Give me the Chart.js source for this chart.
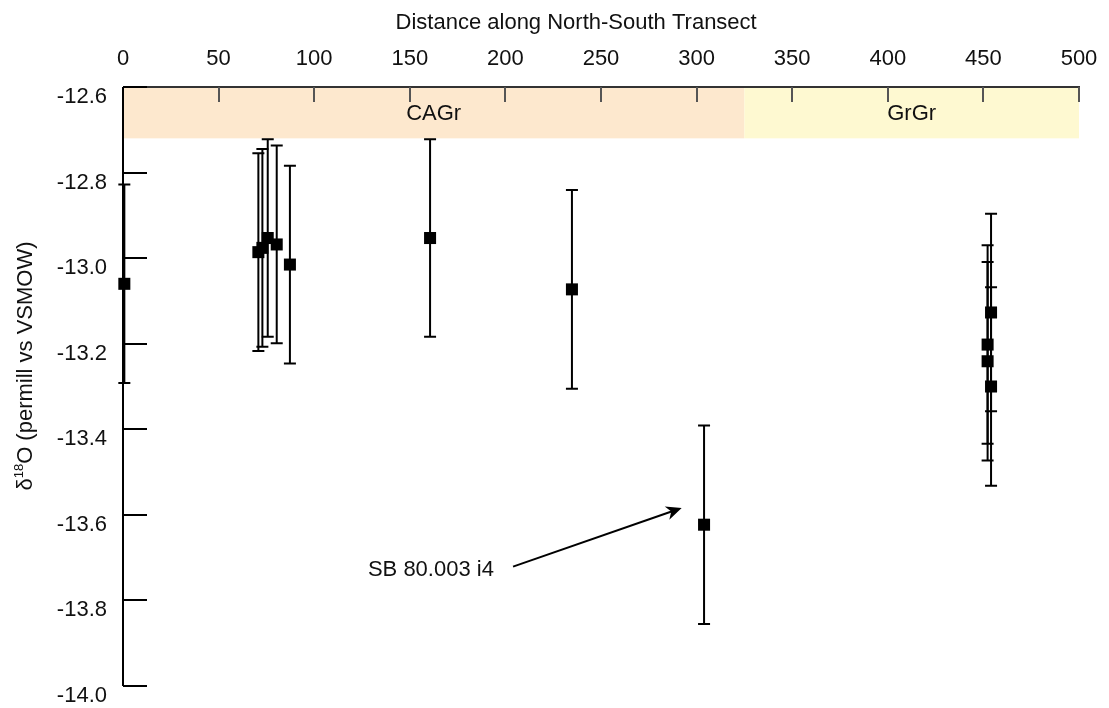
<!DOCTYPE html>
<html>
<head>
<meta charset="utf-8">
<script src="https://cdn.jsdelivr.net/npm/chart.js@4.4.0/dist/chart.umd.min.js"></script>
<style>
  html, body { margin: 0; padding: 0; background: #fff; }
  #wrap { width: 1109px; height: 708px; position: relative; }
</style>
</head>
<body>
<div id="wrap"><canvas id="isoChart"></canvas></div>
<script>
// =============================================
// DATOS
// =============================================
const distancias = [0.7, 70.8, 72.9, 75.7, 80.4, 87.3, 160.6, 234.8, 303.9, 452.2, 452.2, 454.0, 454.0];
const d18O = [-13.060, -12.986, -12.976, -12.953, -12.968, -13.015, -12.953, -13.073, -13.623, -13.202, -13.241, -13.127, -13.300];
const errores = [0.232, 0.231, 0.231, 0.231, 0.231, 0.231, 0.231, 0.232, 0.232, 0.232, 0.232, 0.231, 0.232];

const xTicks = [0, 50, 100, 150, 200, 250, 300, 350, 400, 450, 500];
const yTicks = [-14.0, -13.8, -13.6, -13.4, -13.2, -13.0, -12.8, -12.6];

// zonas sombreadas arriba del grafico
const zonas = ['CAGr', 'GrGr'];
const zonaInicio = [0, 325];
const zonaFin = [325, 500];
const zonaTecho = -12.6;
const zonaPiso = -12.72;

// nota con flecha
const notaTexto = 'SB 80.003 i4';
const notaPos = [128.1, -13.728];
const flechaDesde = [204.0, -13.721];
const flechaHasta = [292.2, -13.584];

const FUENTE = '"Liberation Sans", Arial, Helvetica, sans-serif';
const zonaColores = ['#fde8ce', '#fef9d1'];

// =============================================
// DIBUJOS EXTRA
// =============================================
function dibujarFlecha(ctx, x0, y0, x1, y1) {
    const ang = Math.atan2(y1 - y0, x1 - x0);
    const largo = 17, ancho = 0.42;
    ctx.strokeStyle = '#000';
    ctx.lineWidth = 2;
    ctx.beginPath();
    ctx.moveTo(x0, y0);
    ctx.lineTo(x1 - Math.cos(ang) * 10, y1 - Math.sin(ang) * 10);
    ctx.stroke();
    ctx.fillStyle = '#000';
    ctx.beginPath();
    ctx.moveTo(x1, y1);
    ctx.lineTo(x1 - largo * Math.cos(ang - ancho), y1 - largo * Math.sin(ang - ancho));
    ctx.lineTo(x1 - 11 * Math.cos(ang), y1 - 11 * Math.sin(ang));
    ctx.lineTo(x1 - largo * Math.cos(ang + ancho), y1 - largo * Math.sin(ang + ancho));
    ctx.closePath();
    ctx.fill();
}

function dibujarTituloY(ctx, cx, cy) {
    const partes = [
        ['δ', '22px ' + FUENTE, 0],
        ['18', '13px ' + FUENTE, -7],
        ['O (permill vs VSMOW)', '22px ' + FUENTE, 0]
    ];
    ctx.save();
    ctx.translate(cx, cy);
    ctx.rotate(-Math.PI / 2);
    let total = 0;
    partes.forEach(p => { ctx.font = p[1]; total += ctx.measureText(p[0]).width; });
    let pos = -total / 2;
    ctx.fillStyle = '#111';
    ctx.textAlign = 'left';
    ctx.textBaseline = 'middle';
    partes.forEach(p => {
        ctx.font = p[1];
        ctx.fillText(p[0], pos, p[2]);
        pos += ctx.measureText(p[0]).width;
    });
    ctx.restore();
}

const decoracion = {
    id: 'decoracion',
    beforeDatasetsDraw(chart) {
        const { ctx, chartArea: a, scales: { x, y } } = chart;
        ctx.save();

        // zonas
        zonas.forEach((nombre, i) => {
            const x0 = x.getPixelForValue(zonaInicio[i]);
            const x1 = x.getPixelForValue(zonaFin[i]);
            const y0 = y.getPixelForValue(zonaTecho);
            const y1 = y.getPixelForValue(zonaPiso);
            ctx.fillStyle = zonaColores[i];
            ctx.fillRect(x0, y0, x1 - x0, y1 - y0);
            ctx.fillStyle = '#111';
            ctx.font = '22px ' + FUENTE;
            ctx.textAlign = 'center';
            ctx.textBaseline = 'middle';
            ctx.fillText(nombre, (x0 + x1) / 2, (y0 + y1) / 2 + 1);
        });

        // eje superior con marcas hacia adentro
        ctx.strokeStyle = '#333';
        ctx.lineWidth = 2;
        ctx.beginPath();
        ctx.moveTo(a.left, a.top);
        ctx.lineTo(a.right + 1, a.top);
        ctx.stroke();
        ctx.strokeStyle = '#555';
        ctx.lineWidth = 2;
        xTicks.forEach(v => {
            const px = Math.round(x.getPixelForValue(v));
            ctx.beginPath();
            ctx.moveTo(px, a.top);
            ctx.lineTo(px, a.top + 15);
            ctx.stroke();
        });

        // eje izquierdo
        ctx.strokeStyle = '#000';
        ctx.lineWidth = 2;
        ctx.beginPath();
        ctx.moveTo(a.left, a.top);
        ctx.lineTo(a.left, a.bottom);
        ctx.stroke();
        yTicks.forEach(v => {
            const py = Math.round(y.getPixelForValue(v));
            ctx.beginPath();
            ctx.moveTo(a.left, py);
            ctx.lineTo(a.left + 24, py);
            ctx.stroke();
        });

        // barras de error
        ctx.strokeStyle = '#000';
        ctx.lineWidth = 2;
        distancias.forEach((d, i) => {
            const px = x.getPixelForValue(d);
            const arriba = y.getPixelForValue(d18O[i] + errores[i]);
            const abajo = y.getPixelForValue(d18O[i] - errores[i]);
            ctx.beginPath();
            ctx.moveTo(px, arriba);
            ctx.lineTo(px, abajo);
            ctx.moveTo(px - 6, arriba);
            ctx.lineTo(px + 6, arriba);
            ctx.moveTo(px - 6, abajo);
            ctx.lineTo(px + 6, abajo);
            ctx.stroke();
        });
        ctx.restore();
    },
    afterDatasetsDraw(chart) {
        const { ctx, chartArea: a, scales: { x, y } } = chart;
        ctx.save();
        // titulo de arriba (no va centrado en el eje)
        ctx.fillStyle = '#111';
        ctx.font = '22px ' + FUENTE;
        ctx.textAlign = 'center';
        ctx.textBaseline = 'middle';
        ctx.fillText('Distance along North-South Transect', a.left + (a.right - a.left) * 0.474, 23);

        // nota
        ctx.textAlign = 'left';
        ctx.fillText(notaTexto, x.getPixelForValue(notaPos[0]), y.getPixelForValue(notaPos[1]));
        dibujarFlecha(ctx,
            x.getPixelForValue(flechaDesde[0]), y.getPixelForValue(flechaDesde[1]),
            x.getPixelForValue(flechaHasta[0]), y.getPixelForValue(flechaHasta[1]));

        dibujarTituloY(ctx, 26, 366);
        ctx.restore();
    }
};

// sin margen extra de las etiquetas, el area queda fija
function sinRelleno(s) {
    s.paddingTop = 0;
    s.paddingBottom = 0;
    s.paddingLeft = 0;
    s.paddingRight = 0;
}

// =============================================
// GRAFICO
// =============================================
const ctxIso = document.getElementById('isoChart');
const isoChart = new Chart(ctxIso.getContext('2d'), {
    type: 'scatter',
    data: {
        datasets: [{
            label: 'd18O',
            data: distancias.map((d, i) => ({ x: d, y: d18O[i] })),
            pointStyle: 'rect',
            pointRadius: 8.5,
            pointBorderWidth: 0,
            pointBackgroundColor: '#000',
            clip: false
        }]
    },
    options: {
        responsive: true,
        maintainAspectRatio: false,
        animation: false,
        layout: { padding: { left: 0, top: 0, right: 30, bottom: 22 } },
        plugins: {
            legend: { display: false },
            tooltip: { enabled: false }
        },
        scales: {
            x: {
                type: 'linear',
                position: 'top',
                min: 0,
                max: 500,
                grid: { display: false, drawTicks: false },
                border: { display: false },
                afterBuildTicks: s => { s.ticks = xTicks.map(v => ({ value: v })); },
                afterFit: s => { s.height = 87; sinRelleno(s); },
                ticks: {
                    padding: 15,
                    color: '#111',
                    font: { family: FUENTE, size: 22 },
                    maxRotation: 0,
                    callback: v => String(v)
                }
            },
            y: {
                type: 'linear',
                position: 'left',
                min: -14.0,
                max: -12.6,
                grid: { display: false, drawTicks: false },
                border: { display: false },
                afterBuildTicks: s => { s.ticks = yTicks.map(v => ({ value: v })); },
                afterFit: s => { s.width = 123; sinRelleno(s); },
                ticks: {
                    padding: 16,
                    labelOffset: 10,
                    color: '#111',
                    font: { family: FUENTE, size: 22 },
                    callback: v => Number(v).toFixed(1)
                }
            }
        }
    },
    plugins: [decoracion]
});
</script>
</body>
</html>
